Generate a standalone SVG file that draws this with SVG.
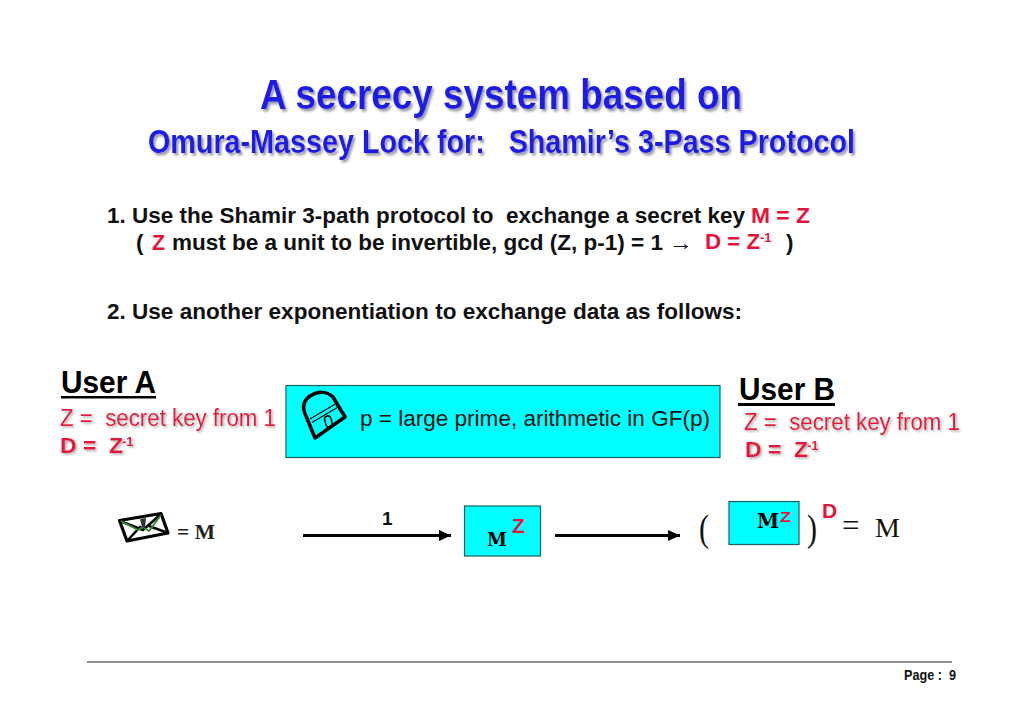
<svg xmlns="http://www.w3.org/2000/svg" width="1024" height="711" viewBox="0 0 1024 711">
<defs>
<filter id="sh" x="-5%" y="-20%" width="110%" height="150%"><feDropShadow dx="2" dy="2.500" stdDeviation="1" flood-color="#9a9aa8"/></filter>
<filter id="shs" x="-5%" y="-20%" width="110%" height="150%"><feDropShadow dx="1.500" dy="1.500" stdDeviation="0.800" flood-color="#aaaaaa"/></filter>
<marker id="ah" markerWidth="13" markerHeight="12" refX="12" refY="5.500" orient="auto" markerUnits="userSpaceOnUse"><path d="M0 0L12 5.500L0 11Z" fill="#000"/></marker>
</defs>
<style>
svg{font-family:"Liberation Sans",Arial,sans-serif}
.t{fill:#1a1ae6;font-weight:700;filter:url(#sh)}
.b{font-weight:700;font-size:22.500px;fill:#111}
.r{fill:#e6143c;font-weight:700}
.k{fill:#e6143c;font-size:23px}
.kb{fill:#e6143c;font-size:22px;font-weight:700}
.u{font-size:31px;font-weight:700;fill:#000}
.box{fill:#00ffff;stroke:#1f5f60;stroke-width:1.200}
.conn{stroke:#000;stroke-width:3;fill:none;marker-end:url(#ah)}
</style>
<rect width="1024" height="711" fill="#fff"/>
<g id="title">
<text class="t" x="260" y="109" font-size="43" textLength="482" lengthAdjust="spacingAndGlyphs">A secrecy system based on</text>
<text class="t" x="148" y="153" font-size="33" textLength="707" lengthAdjust="spacingAndGlyphs" xml:space="preserve">Omura-Massey Lock for:   Shamir’s 3-Pass Protocol</text>
</g>
<g id="intro">
<text class="b" x="107" y="223" textLength="638" lengthAdjust="spacingAndGlyphs" xml:space="preserve">1. Use the Shamir 3-path protocol to  exchange a secret key</text>
<text class="r" x="751" y="223" font-size="22" textLength="59" lengthAdjust="spacingAndGlyphs">M = Z</text>
<text class="b" x="136" y="250">(</text>
<text class="r" x="152" y="250" font-size="22" textLength="13" lengthAdjust="spacingAndGlyphs">Z</text>
<text class="b" x="172" y="250" textLength="491" lengthAdjust="spacingAndGlyphs">must be a unit to be invertible, gcd (Z, p-1) = 1</text>
<text x="669" y="250" font-size="22" fill="#111" font-family="Liberation Serif,serif" textLength="24" lengthAdjust="spacingAndGlyphs">→</text>
<text class="r" x="705" y="249" font-size="22" textLength="55" lengthAdjust="spacingAndGlyphs">D = Z</text>
<text class="r" x="760" y="242" font-size="13">-1</text>
<text class="b" x="786" y="250">)</text>
<text class="b" x="107" y="319" textLength="635" lengthAdjust="spacingAndGlyphs">2. Use another exponentiation to exchange data as follows:</text>
</g>
<g id="user-a">
<text class="u" x="61" y="393" textLength="95" lengthAdjust="spacingAndGlyphs">User A</text>
<rect x="61" y="396" width="95" height="2.500" fill="#000"/>
<text class="k" x="60" y="426" filter="url(#shs)" textLength="216" lengthAdjust="spacingAndGlyphs" xml:space="preserve">Z =  secret key from 1</text>
<g filter="url(#shs)"><text class="kb" x="60" y="453" textLength="63" lengthAdjust="spacingAndGlyphs" xml:space="preserve">D =  Z</text>
<text class="r" x="122" y="446" font-size="13">-1</text></g>
</g>
<g id="public">
<rect class="box" x="286" y="385.500" width="434" height="72"/>
<g fill="none" stroke="#000">
<path d="M315 438L345 417L333 397C327 391 318 391 310 396C303 401 302 408 306 416Z" stroke-width="3.500" stroke-linejoin="round"/>
<path d="M310 419L337 403M312 422.500L339 406.500" stroke-width="1.300"/>
<rect x="325" y="416" width="6.500" height="11" rx="3" transform="rotate(-15 328 421)" stroke-width="1.500"/>
</g>
<text x="360" y="426" font-size="22" fill="#111" textLength="350" lengthAdjust="spacingAndGlyphs">p = large prime, arithmetic in GF(p)</text>
</g>
<g id="user-b">
<text class="u" x="739" y="400" textLength="96" lengthAdjust="spacingAndGlyphs">User B</text>
<rect x="738" y="403" width="97" height="3" fill="#000"/>
<text class="k" x="744" y="430" filter="url(#shs)" textLength="216" lengthAdjust="spacingAndGlyphs" xml:space="preserve">Z =  secret key from 1</text>
<g filter="url(#shs)"><text class="kb" x="745" y="457" textLength="63" lengthAdjust="spacingAndGlyphs" xml:space="preserve">D =  Z</text>
<text class="r" x="807" y="450" font-size="13">-1</text></g>
</g>
<g id="message">
<g fill="none" stroke-linejoin="round">
<path d="M119.500 520.500L161 513.500L168 533L127 541Z" stroke="#000" stroke-width="3.200"/>
<path d="M120 521L143 530L161 514M127 541L141 526M149 526L168 533" stroke="#000" stroke-width="2.500"/>
<path d="M121 521L138 530L143 527L149 531L161 515" stroke="#2e8b2e" stroke-width="1.800"/>
<path d="M140 519L146 518L145 528L142 527Z" fill="#333" stroke="none"/>
</g>
<text x="177" y="539" font-size="21.500" font-weight="700" font-family="Liberation Serif,serif" fill="#222">= M</text>
</g>
<g id="connectors">
<line class="conn" x1="303" y1="535.500" x2="451" y2="535.500"/>
<line class="conn" x1="555" y1="535.500" x2="680" y2="535.500"/>
</g>
<g id="label-1"><text x="382" y="525" font-size="19" font-weight="700" fill="#111">1</text></g>
<g id="mz-box">
<rect class="box" x="464.500" y="506" width="76" height="50"/>
<text x="487" y="546" font-size="18" font-weight="700" font-family="DejaVu Serif,serif" fill="#000">M</text>
<text class="r" x="512" y="533" font-size="21">Z</text>
</g>
<g id="result">
<text x="699" y="541" font-size="38" font-family="Liberation Serif,serif" fill="#111" textLength="10" lengthAdjust="spacingAndGlyphs">(</text>
<rect class="box" x="729" y="501.500" width="70" height="43"/>
<text x="757" y="528" font-size="20" font-weight="700" font-family="DejaVu Serif,serif" fill="#000">M</text>
<text class="r" x="780" y="522" font-size="14" textLength="11" lengthAdjust="spacingAndGlyphs">Z</text>
<text x="807" y="541" font-size="38" font-family="Liberation Serif,serif" fill="#111" textLength="10" lengthAdjust="spacingAndGlyphs">)</text>
<text class="r" x="822" y="518" font-size="21">D</text>
<text x="842" y="536" font-size="31" font-family="Liberation Serif,serif" fill="#111">=</text>
<text x="875" y="537" font-size="28" font-family="Liberation Serif,serif" fill="#111">M</text>
</g>
<g id="footer">
<line x1="87" y1="662" x2="952" y2="662" stroke="#222" stroke-width="1.200"/>
<text x="904" y="680" font-size="15" font-weight="700" fill="#111" textLength="52" lengthAdjust="spacingAndGlyphs" xml:space="preserve">Page :  9</text>
</g>
</svg>
